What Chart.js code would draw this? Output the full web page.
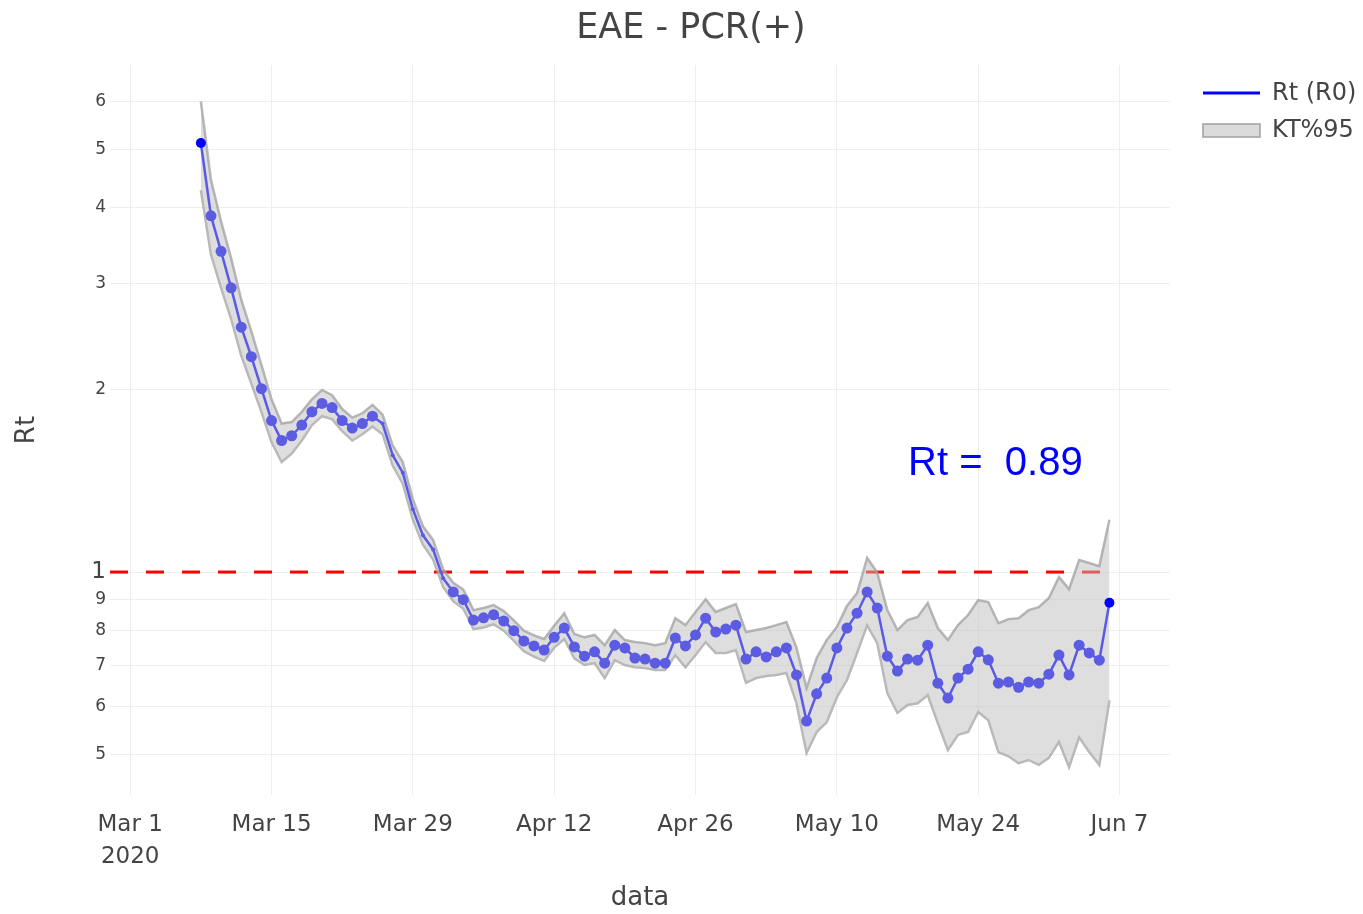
<!DOCTYPE html>
<html lang="el">
<head>
<meta charset="UTF-8" />
<title>EAE - PCR(+)</title>
<script src="https://cdn.jsdelivr.net/npm/chart.js"></script>
<style>
  body { margin: 0; background: #fff; }
  #wrap { width: 1363px; height: 914px; }
</style>
</head>
<body>
<div id="wrap"><canvas id="rtChart" width="1363" height="914"></canvas></div>
<script>
// days counted from Mar 1 2020; first estimate is Mar 8 (day 7), one value per day
const firstDay = 7;
const rt = [
  5.12, 3.88, 3.39, 2.95, 2.54, 2.27, 2.01, 1.78, 1.65, 1.68,
  1.75, 1.84, 1.90, 1.87, 1.78, 1.73, 1.76, 1.81, 1.76, 1.56,
  1.46, 1.27, 1.15, 1.09, 0.977, 0.927, 0.90, 0.833, 0.84, 0.85,
  0.83, 0.80, 0.769, 0.755, 0.743, 0.78, 0.808, 0.752, 0.726, 0.738,
  0.707, 0.757, 0.749, 0.721, 0.718, 0.707, 0.707, 0.778, 0.755, 0.787,
  0.839, 0.796, 0.805, 0.817, 0.718, 0.738, 0.724, 0.738, 0.749, 0.676,
  0.567, 0.629, 0.668, 0.749, 0.808, 0.855, 0.927, 0.872, 0.726, 0.686,
  0.718, 0.715, 0.757, 0.655, 0.619, 0.668, 0.691, 0.738, 0.716, 0.655,
  0.658, 0.645, 0.658, 0.655, 0.678, 0.729, 0.676, 0.757, 0.735, 0.715,
  0.89
];
const ktUpper = [
  6.0, 4.45, 3.80, 3.30, 2.82, 2.50, 2.20, 1.93, 1.76, 1.77,
  1.84, 1.93, 2.00, 1.96, 1.86, 1.80, 1.83, 1.89, 1.82, 1.62,
  1.52, 1.32, 1.19, 1.13, 1.01, 0.96, 0.935, 0.865, 0.872, 0.882,
  0.862, 0.832, 0.80, 0.786, 0.775, 0.815, 0.855, 0.79, 0.78, 0.787,
  0.757, 0.802, 0.772, 0.766, 0.763, 0.757, 0.763, 0.839, 0.817, 0.859,
  0.902, 0.859, 0.872, 0.885, 0.796, 0.802, 0.808, 0.817, 0.827, 0.75,
  0.643, 0.721, 0.772, 0.811, 0.879, 0.923, 1.055, 0.998, 0.865, 0.802,
  0.833, 0.843, 0.889, 0.808, 0.772, 0.817, 0.849, 0.899, 0.892, 0.823,
  0.836, 0.839, 0.865, 0.875, 0.906, 0.981, 0.937, 1.047, 1.035, 1.023,
  1.22
];
const ktLower = [
  4.28, 3.35, 2.95, 2.62, 2.28, 2.05, 1.84, 1.64, 1.52, 1.57,
  1.65, 1.75, 1.81, 1.79, 1.71, 1.65, 1.69, 1.74, 1.69, 1.50,
  1.40, 1.22, 1.11, 1.05, 0.945, 0.895, 0.87, 0.805, 0.81, 0.82,
  0.80, 0.77, 0.74, 0.725, 0.713, 0.75, 0.775, 0.72, 0.702, 0.707,
  0.668, 0.715, 0.702, 0.696, 0.694, 0.689, 0.689, 0.729, 0.696, 0.729,
  0.766, 0.735, 0.735, 0.743, 0.656, 0.668, 0.673, 0.676, 0.681, 0.607,
  0.502, 0.544, 0.565, 0.621, 0.663, 0.735, 0.817, 0.763, 0.631, 0.585,
  0.603, 0.607, 0.626, 0.563, 0.508, 0.538, 0.544, 0.587, 0.569, 0.504,
  0.496, 0.483, 0.489, 0.480, 0.493, 0.524, 0.476, 0.533, 0.504, 0.480,
  0.614
];
const xTickDays = [0, 14, 28, 42, 56, 70, 84, 98];
const xTickLabels = [["Mar 1", "2020"], "Mar 15", "Mar 29", "Apr 12", "Apr 26", "May 10", "May 24", "Jun 7"];
const yTicks = [0.5, 0.6, 0.7, 0.8, 0.9, 1, 2, 3, 4, 5, 6];
const threshold = 1;
const lastRt = "0.89";

const FONT = "'DejaVu Sans', Verdana, sans-serif";
const pts = arr => arr.map((v, i) => ({ x: firstDay + i, y: v }));
const n = rt.length;
const lastDay = firstDay + n - 1;

// first and last estimate drawn solid blue, a few late-March markers are tiny
const radii = rt.map((v, i) => (i === 0 || i === n - 1) ? 5 : (i >= 18 && i <= 24 ? 2 : 5.5));
const colors = rt.map((v, i) => (i === 0 || i === n - 1) ? "#0000ff" : "rgb(92,92,226)");

const extras = {
  id: "extras",
  afterDraw(chart) {
    const c = chart.ctx;
    const sx = chart.scales.x, sy = chart.scales.y;
    c.save();
    // title
    c.fillStyle = "#444";
    c.font = "35px " + FONT;
    c.textAlign = "center";
    c.textBaseline = "middle";
    c.fillText("EAE - PCR(+)", 691, 29);
    // annotation
    c.fillStyle = "#0000ff";
    c.font = "40px 'Liberation Sans', Arial, sans-serif";
    c.fillText("Rt =  " + lastRt, sx.getPixelForValue(85.7), sy.getPixelForValue(1.51));
    // legend
    c.strokeStyle = "#0000ff";
    c.lineWidth = 3;
    c.beginPath(); c.moveTo(1203, 93); c.lineTo(1260, 93); c.stroke();
    c.fillStyle = "rgba(190,190,190,0.55)";
    c.fillRect(1203, 124, 57, 13);
    c.strokeStyle = "rgba(160,160,160,0.75)";
    c.lineWidth = 2;
    c.strokeRect(1203, 124, 57, 13);
    c.fillStyle = "#444";
    c.font = "24px " + FONT;
    c.textAlign = "left";
    c.fillText("Rt (R0)", 1272, 94);
    c.fillText("KT%95", 1272, 131);
    c.restore();
  }
};

new Chart(document.getElementById("rtChart"), {
  type: "line",
  data: {
    datasets: [
      {
        label: "Rt (R0)",
        data: pts(rt),
        borderColor: "rgb(90,90,230)",
        borderWidth: 2.5,
        pointRadius: radii,
        pointBackgroundColor: colors,
        pointBorderWidth: 0,
        tension: 0
      },
      {
        label: "KT%95",
        data: pts(ktUpper),
        borderColor: "rgba(160,160,160,0.75)",
        borderWidth: 2.5,
        backgroundColor: "rgba(190,190,190,0.5)",
        fill: "+1",
        pointRadius: 0,
        tension: 0
      },
      {
        label: "lower",
        data: pts(ktLower),
        borderColor: "rgba(160,160,160,0.75)",
        borderWidth: 2.5,
        fill: false,
        pointRadius: 0,
        tension: 0
      },
      {
        label: "threshold",
        data: [{ x: -2, y: threshold }, { x: lastDay, y: threshold }],
        borderColor: "#ff0000",
        borderWidth: 3,
        borderDash: [18, 18],
        pointRadius: 0,
        fill: false
      }
    ]
  },
  options: {
    responsive: false,
    animation: false,
    events: [],
    layout: { padding: { top: 65, right: 193, bottom: 0, left: 12 } },
    plugins: { legend: { display: false }, tooltip: { enabled: false }, title: { display: false } },
    scales: {
      x: {
        type: "linear",
        min: -2,
        max: 103,
        afterBuildTicks: s => { s.ticks = xTickDays.map(v => ({ value: v })); },
        afterFit: s => { s.height = 119; },
        grid: { color: "#eeeeee", lineWidth: 1, drawTicks: false },
        border: { display: false },
        ticks: {
          autoSkip: false,
          maxRotation: 0,
          padding: 14,
          color: "#444",
          font: { family: FONT, size: 23, lineHeight: 1.4 },
          callback: v => xTickLabels[xTickDays.indexOf(v)]
        },
        title: { display: true, text: "data", color: "#444", font: { family: FONT, size: 26 }, padding: { top: 4, bottom: 0 } }
      },
      y: {
        type: "logarithmic",
        min: 0.428,
        max: 6.89,
        afterBuildTicks: s => { s.ticks = yTicks.map(v => ({ value: v })); },
        afterFit: s => { s.width = 98; },
        grid: { color: "#eeeeee", lineWidth: 1, drawTicks: false },
        border: { display: false },
        ticks: {
          padding: 4,
          color: "#444",
          font: ctx => ({ family: FONT, size: (ctx.tick && ctx.tick.value === 1) ? 23 : 17 }),
          callback: v => v >= 1 ? String(v) : String(Math.round(v * 10))
        },
        title: { display: true, text: "Rt", color: "#444", font: { family: FONT, size: 26 }, padding: { top: 0, bottom: 4 } }
      }
    }
  },
  plugins: [extras]
});
</script>
</body>
</html>
